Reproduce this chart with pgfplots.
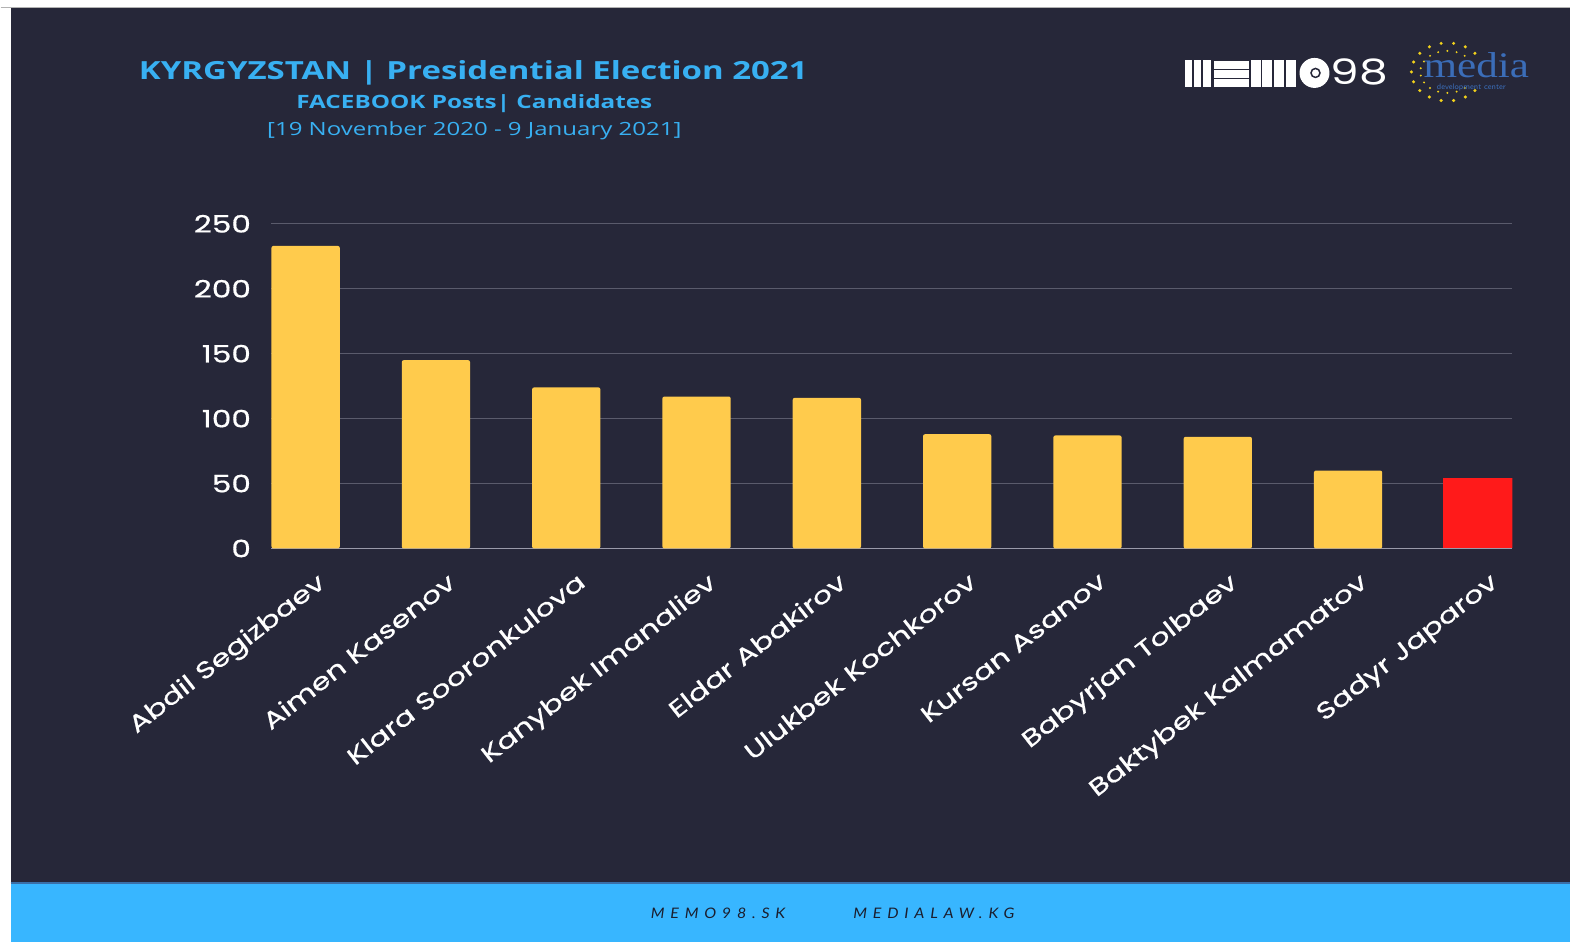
\documentclass[border=0pt]{standalone}
\usepackage{pgfplots}
\pgfplotsset{compat=1.18}
\usepackage{fontspec}
\setmainfont{Open Sans}
\newfontfamily\poppins[FakeStretch=1.3,FakeBold=0.6]{Poppins}
\newfontfamily\poppinsw[FakeStretch=1.3]{Poppins}
\newfontfamily\opensans[FakeStretch=1.32]{Open Sans}
\newfontfamily\latosp[LetterSpace=40,FakeStretch=1.1]{Lato}
\newfontfamily\mserif[FakeStretch=1.2]{Liberation Serif}
\definecolor{bg}{HTML}{262739}
\definecolor{gridc}{HTML}{5A5B6C}
\definecolor{basec}{HTML}{9A9AAA}
\definecolor{titleblue}{HTML}{38B0F2}
\definecolor{footblue}{HTML}{38B6FF}
\definecolor{footline}{HTML}{3A6FA8}
\definecolor{foottext}{HTML}{1B1E2E}
\definecolor{baryellow}{HTML}{FFCB4C}
\definecolor{barred}{HTML}{FF1A1A}
\definecolor{mediablue}{HTML}{3B6DB8}
\definecolor{dotyellow}{HTML}{F2D21B}
\begin{document}
\begin{tikzpicture}[x=1pt,y=1pt]
% page and frame
\fill[white] (0,0) rectangle (1571,943);
\fill[bg] (10,0) rectangle (1571,935);
\draw[gray!60, line width=1.5pt] (0,935.5) -- (1571,935.5);
\fill[footblue] (10,0) rectangle (1571,59);
\draw[footline, line width=1.5pt] (10,59) -- (1571,59);
% titles
\node[text=titleblue, font=\opensans\bfseries\fontsize{25}{30}\selectfont] at (473,870) {KYRGYZSTAN | Presidential Election 2021};
\node[text=titleblue, font=\opensans\bfseries\fontsize{18.4}{22}\selectfont] at (474,839) {FACEBOOK Posts| Candidates};
\node[text=titleblue, font=\opensans\fontsize{18.2}{22}\selectfont] at (474,812) {[19 November 2020 - 9 January 2021]};
% footer
\node[text=foottext, font=\latosp\itshape\fontsize{14.5}{16}\selectfont] at (718,29) {MEMO98.SK};
\node[text=foottext, font=\latosp\itshape\fontsize{14.5}{16}\selectfont] at (934,29) {MEDIALAW.KG};
% MEMO98 logo
\foreach \i in {0,1,2} {\fill[white] ({1185+\i*9.2},856) rectangle ({1192.5+\i*9.2},883);}
\foreach \j in {0,1,2} {\fill[white] (1214,{856+\j*9.2}) rectangle (1249,{863.5+\j*9.2});}
\foreach \i in {0,1,2,3} {\fill[white] ({1251+\i*11.7},856) rectangle ({1261+\i*11.7},883);}
\fill[white] (1315,870) circle (15);
\draw[bg, line width=1.5pt] (1316,870) circle (4.5);
\node[text=white, font=\poppinsw\fontsize{35}{40}\selectfont, anchor=west, inner sep=0pt] at (1331,871) {98};
% media development center logo
\foreach \a in {40,60,...,320} {\fill[dotyellow] ({1448+36*cos(\a)},{871+29*sin(\a)}) circle (1.7);}
\foreach \a in {50,70,...,310} {\fill[dotyellow] ({1448+27*cos(\a)},{871+21*sin(\a)}) circle (1.1);}
\node[text=mediablue, font=\mserif\fontsize{36}{38}\selectfont, inner sep=0pt] at (1477,878) {media};
\node[text=mediablue, font=\sffamily\fontsize{8}{9}\selectfont, inner sep=0pt] at (1472,855) {development center};
% chart
\begin{axis}[
  at={(271pt,394pt)}, anchor=south west,
  scale only axis, width=1242pt, height=325pt,
  xmin=-0.262, xmax=9.26, ymin=0, ymax=250,
  ytick={0,50,...,250},
  xtick={0,...,9},
  xticklabels={Abdil Segizbaev, Aimen Kasenov, Klara Sooronkulova, Kanybek Imanaliev, Eldar Abakirov, Ulukbek Kochkorov, Kursan Asanov, Babyrjan Tolbaev, Baktybek Kalmamatov, Sadyr Japarov},
  axis x line*=bottom, axis y line*=left,
  y axis line style={draw=none},
  x axis line style={draw=basec, line width=1.5pt, -},
  major tick length=0pt,
  ymajorgrids, grid style={draw=gridc, line width=1pt},
  ticklabel style={text=white},
  yticklabel style={font=\poppins\fontsize{24}{24}\selectfont, xshift=-17pt},
  /pgf/number format/assume math mode=true,
  xticklabel style={font=\poppins\fontsize{23.5}{25}\selectfont, xshift=10.5pt, yshift=-18pt, rotate=38, anchor=north east},
]
\addplot[ybar, bar width=0.524, bar shift=0pt, fill=baryellow, draw=none, rounded corners=2pt]
  coordinates {(0,233) (1,145) (2,124) (3,117) (4,116) (5,88) (6,87) (7,86) (8,60)};
\addplot[ybar, bar width=0.545, bar shift=0pt, fill=barred, draw=none]
  coordinates {(9,54)};
\end{axis}
\end{tikzpicture}
\end{document}
